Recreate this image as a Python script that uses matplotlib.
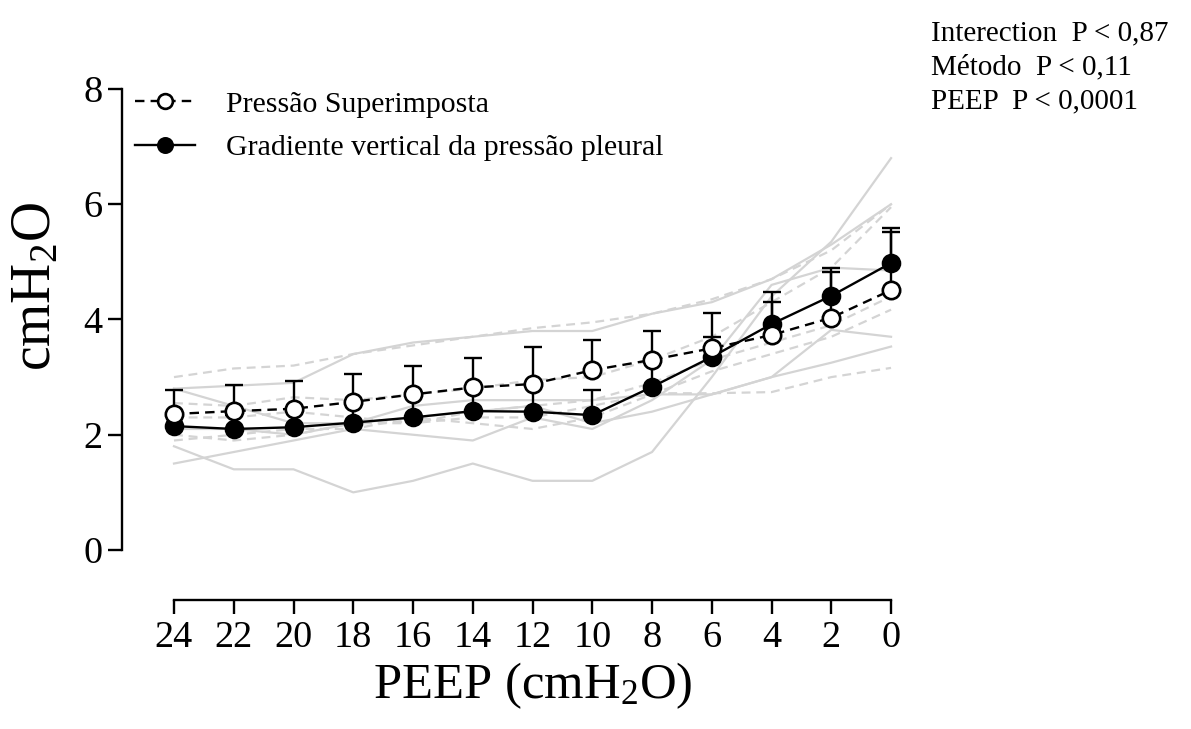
import matplotlib
matplotlib.use('Agg')
import matplotlib.pyplot as plt
import numpy as np

# ---- data ----
peep = [24, 22, 20, 18, 16, 14, 12, 10, 8, 6, 4, 2, 0]
peep_labels = ['24', '22', '20', '18', '16', '14', '12', '10', '8', '6', '4', '2', '0']

super_mean = [2.36, 2.41, 2.45, 2.57, 2.70, 2.82, 2.88, 3.12, 3.30, 3.50, 3.73, 4.03, 4.51]
super_sd = [0.42, 0.45, 0.48, 0.49, 0.50, 0.52, 0.64, 0.53, 0.50, 0.61, 0.58, 0.79, 1.01]

grad_mean = [2.15, 2.10, 2.13, 2.21, 2.30, 2.41, 2.40, 2.34, 2.83, 3.35, 3.92, 4.41, 4.98]
grad_sd = [0.20, 0.25, 0.28, 0.33, 0.38, 0.38, 0.45, 0.44, 0.45, 0.35, 0.56, 0.49, 0.61]

# individual animals - vertical gradient of pleural pressure (solid grey)
grad_ind_1 = [1.80, 1.40, 1.40, 1.00, 1.20, 1.50, 1.20, 1.20, 1.70, 3.00, 4.40, 5.35, 6.80]
grad_ind_2 = [2.80, 2.85, 2.90, 3.40, 3.60, 3.70, 3.80, 3.80, 4.10, 4.30, 4.70, 5.30, 6.00]
grad_ind_3 = [1.50, 1.70, 1.90, 2.10, 2.00, 1.90, 2.30, 2.10, 2.60, 3.30, 4.60, 4.90, 4.85]
grad_ind_4 = [2.80, 2.50, 2.20, 2.20, 2.30, 2.40, 2.50, 2.20, 2.40, 2.70, 3.00, 3.82, 3.70]
grad_ind_5 = [2.10, 2.10, 2.00, 2.20, 2.50, 2.60, 2.60, 2.60, 2.70, 2.70, 3.00, 3.25, 3.53]

# individual animals - superimposed pressure (dashed grey)
super_ind_1 = [3.00, 3.15, 3.20, 3.40, 3.55, 3.70, 3.85, 3.95, 4.10, 4.35, 4.70, 5.20, 6.00]
super_ind_2 = [2.55, 2.50, 2.65, 2.60, 2.70, 2.80, 2.95, 3.00, 3.30, 3.70, 4.30, 4.90, 5.95]
super_ind_3 = [2.30, 2.30, 2.40, 2.30, 2.20, 2.40, 2.50, 2.60, 2.90, 3.30, 3.60, 3.90, 4.40]
super_ind_4 = [1.90, 2.00, 2.10, 2.10, 2.30, 2.20, 2.10, 2.30, 2.70, 3.10, 3.40, 3.70, 4.17]
super_ind_5 = [2.00, 1.90, 2.00, 2.20, 2.20, 2.30, 2.30, 2.50, 2.72, 2.72, 2.74, 3.00, 3.16]

label_super = 'Pressão Superimposta'
label_grad = 'Gradiente vertical da pressão pleural'
stats_lines = ['Interection  P < 0,87', 'Método  P < 0,11', 'PEEP  P < 0,0001']

# ---- style ----
plt.rcParams['font.family'] = ['Liberation Serif', 'DejaVu Serif']
plt.rcParams['mathtext.fontset'] = 'custom'
plt.rcParams['mathtext.rm'] = 'Liberation Serif'
plt.rcParams['mathtext.it'] = 'Liberation Serif:italic'
plt.rcParams['mathtext.bf'] = 'Liberation Serif:bold'

W, H = 1191, 729
fig = plt.figure(figsize=(W / 100, H / 100), dpi=100)
ax = fig.add_axes([122 / W, 129 / H, (906 - 122) / W, (642.9 - 129) / H])

grey = '#d4d4d4'
for ys in [grad_ind_1, grad_ind_2, grad_ind_3, grad_ind_4, grad_ind_5]:
    ax.plot(peep, ys, color=grey, lw=1.6, zorder=1)
for ys in [super_ind_1, super_ind_2, super_ind_3, super_ind_4, super_ind_5]:
    ax.plot(peep, ys, color=grey, lw=1.6, dashes=(4, 2.6), zorder=1)


def up_errorbar(x, m, sd, z):
    cont = ax.errorbar(x, m, yerr=[np.zeros(len(sd)), sd], fmt='none', ecolor='black',
                       elinewidth=1.7, capsize=6.5, capthick=1.7, zorder=z)
    for cl in cont.lines[1]:
        if np.allclose(cl.get_ydata(), m):
            cl.set_visible(False)


up_errorbar(peep, grad_mean, grad_sd, 2)
l_grad, = ax.plot(peep, grad_mean, color='black', lw=1.7, marker='o', ms=12.5,
                  mfc='black', mec='black', mew=1.6, zorder=3, label=label_grad)
up_errorbar(peep, super_mean, super_sd, 4)
l_super, = ax.plot(peep, super_mean, color='black', lw=1.7, dashes=(4, 2.6), marker='o', ms=12.5,
                   mfc='white', mec='black', mew=1.9, zorder=5, label=label_super)

ax.set_xlim(25.74, -0.5)
ax.set_ylim(-0.868, 8.05)
ax.set_xticks(peep)
ax.set_xticklabels(peep_labels)
ax.set_yticks([0, 2, 4, 6, 8])

for s in ['top', 'right']:
    ax.spines[s].set_visible(False)
ax.spines['left'].set_bounds(0, 8)
ax.spines['bottom'].set_bounds(0, 24)
ax.spines['left'].set_linewidth(1.7)
ax.spines['bottom'].set_linewidth(1.7)
ax.tick_params(axis='both', labelsize=27.5, width=1.7, length=10, direction='out')
ax.tick_params(axis='x', pad=5)
ax.tick_params(axis='y', pad=4)

ax.set_xlabel('PEEP (cmH$_2$O)', fontsize=36.5, labelpad=2)
ax.xaxis.set_label_coords((533 - 122) / 784, -0.118)
ax.set_ylabel('cmH$_2$O', fontsize=40)
ax.yaxis.set_label_coords(-0.076, 0.61)

leg = ax.legend(handles=[l_super, l_grad], loc='upper left',
                bbox_to_anchor=(135 / W, 1 - 91 / H), bbox_transform=fig.transFigure,
                frameon=False, fontsize=21.5, borderpad=0, borderaxespad=0,
                handlelength=2.0, handletextpad=1.05, labelspacing=0.55, markerscale=0.85)

for i, t in enumerate(stats_lines):
    fig.text(931 / W, 1 - (40 + 34 * i) / H, t, ha='left', va='baseline', fontsize=21)

fig.savefig('out.png', dpi=100)
